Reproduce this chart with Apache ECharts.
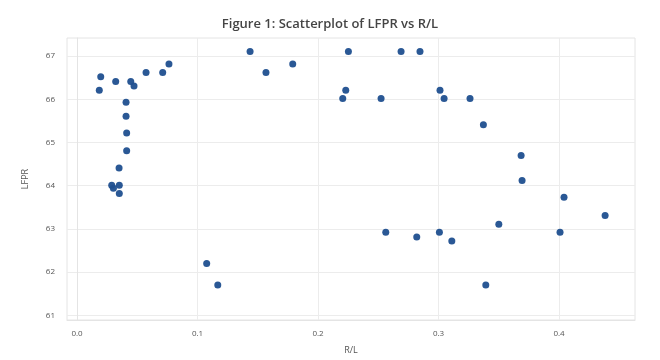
<!DOCTYPE html>
<html>
<head>
<meta charset="utf-8">
<script src="https://cdn.jsdelivr.net/npm/echarts@6/dist/echarts.min.js"></script>
<style>html,body{margin:0;padding:0;background:#fff;}#c{width:660px;height:360px;}</style>
</head>
<body>
<div id="c"></div>
<script>
var titleText = 'Figure 1: Scatterplot of LFPR vs R/L';
var xName = 'R/L';
var yName = 'LFPR';
var xTicks = [0.0, 0.1, 0.2, 0.3, 0.4];
var yTicks = [61, 62, 63, 64, 65, 66, 67];
var rl = [
  0.0197, 0.0185, 0.0321, 0.0446, 0.0473, 0.0573, 0.0711, 0.0763,
  0.0407, 0.0407, 0.0412, 0.0412, 0.0349, 0.0288, 0.0302, 0.0351, 0.0351,
  0.1436, 0.1568, 0.1790, 0.2252, 0.2230, 0.2205, 0.2523, 0.2689, 0.2846,
  0.3012, 0.3046, 0.3261, 0.3372, 0.3685, 0.3693, 0.4041, 0.4382, 0.3500,
  0.3007, 0.3110, 0.4008, 0.3392, 0.1076, 0.1168, 0.2562, 0.2819
];
var lfpr = [
  66.52, 66.21, 66.41, 66.41, 66.31, 66.62, 66.62, 66.82,
  65.93, 65.61, 65.22, 64.81, 64.41, 64.01, 63.94, 64.01, 63.82,
  67.11, 66.62, 66.82, 67.11, 66.21, 66.02, 66.02, 67.11, 67.11,
  66.21, 66.02, 66.02, 65.41, 64.70, 64.12, 63.73, 63.31, 63.11,
  62.92, 62.72, 62.92, 61.70, 62.20, 61.70, 62.92, 62.81
];
var points = rl.map(function (v, i) { return [v, lfpr[i]]; });

var chart = echarts.init(document.getElementById('c'), null, {renderer: 'canvas'});
var labelStyle = {color: '#555', fontSize: 8, fontFamily: 'Open Sans'};
chart.setOption({
  animation: false,
  backgroundColor: '#fff',
  title: {
    text: titleText,
    left: 'center',
    top: 13,
    textStyle: {fontFamily: 'Open Sans', fontSize: 13, fontWeight: 600, color: '#444'}
  },
  grid: {left: 67, right: 25, top: 38, bottom: 37, show: true, borderColor: '#e4e4e4', borderWidth: 1, backgroundColor: '#fff'},
  xAxis: {
    type: 'value',
    min: -0.0083,
    max: 0.463,
    name: xName,
    nameLocation: 'middle',
    nameGap: 26,
    nameTextStyle: {color: '#555', fontSize: 9, fontFamily: 'Open Sans'},
    axisLine: {show: true, lineStyle: {color: '#e4e4e4'}},
    axisTick: {show: false, customValues: xTicks},
    axisLabel: Object.assign({customValues: xTicks, margin: 10, formatter: function (v) { return v.toFixed(1); }}, labelStyle),
    splitLine: {show: true, lineStyle: {color: '#ececec', width: 1}}
  },
  yAxis: {
    type: 'value',
    min: 60.89,
    max: 67.42,
    name: yName,
    nameLocation: 'middle',
    nameGap: 37,
    nameRotate: 90,
    nameTextStyle: {color: '#555', fontSize: 9, fontFamily: 'Open Sans'},
    axisLine: {show: true, lineStyle: {color: '#e4e4e4'}},
    axisTick: {show: false, customValues: yTicks},
    axisLabel: Object.assign({customValues: yTicks, margin: 12, formatter: function (v) { return String(Math.round(v)); }}, labelStyle),
    splitLine: {show: true, lineStyle: {color: '#ececec', width: 1}}
  },
  series: [{
    type: 'scatter',
    data: points,
    symbol: 'circle',
    symbolSize: 7,
    itemStyle: {color: '#1f4f8f', opacity: 0.95}
  }]
});
</script>
</body>
</html>
